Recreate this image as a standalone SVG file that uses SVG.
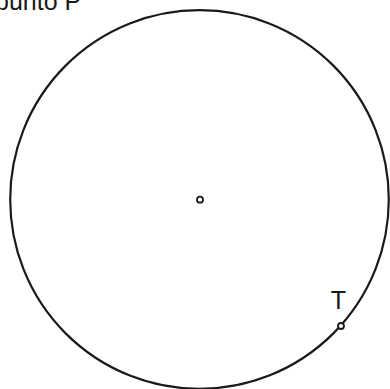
<svg xmlns="http://www.w3.org/2000/svg" width="390" height="389" viewBox="0 0 390 389">
<style>
.ln{fill:none;stroke:#1a1a1a;stroke-width:2.2}
.pt{fill:#fff;stroke:#1a1a1a;stroke-width:1.8}
.lbl{font-family:"Liberation Sans",Arial,sans-serif;fill:#1a1a1a}
</style>
<rect width="390" height="389" fill="#fff"/>
<g id="circle"><circle class="ln" cx="199.5" cy="199.5" r="189.3"/></g>
<g id="center"><circle class="pt" cx="200" cy="199.7" r="3"/></g>
<g id="T"><circle class="pt" cx="341" cy="326" r="3"/><text class="lbl" x="338.5" y="309" font-size="25" text-anchor="middle">T</text></g>
<g id="title"><text class="lbl" x="-5" y="10" font-size="25">punto P</text></g>
</svg>
